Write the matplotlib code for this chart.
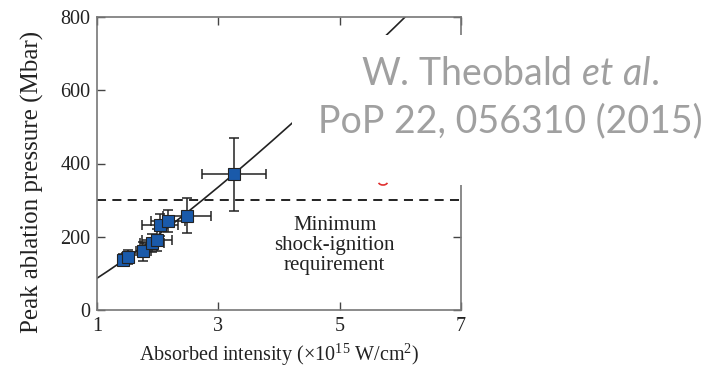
import numpy as np
import matplotlib
matplotlib.use("Agg")
import matplotlib.pyplot as plt
from matplotlib.patches import Rectangle, Arc

# ---- data ----
intensity = [1.43, 1.50, 1.76, 1.90, 1.98, 2.04, 2.17, 2.48, 3.26]
pressure = [137, 145, 160, 183, 192, 232, 243, 258, 370]
intensity_err = [0.08, 0.10, 0.12, 0.20, 0.25, 0.30, 0.28, 0.40, 0.53]
pressure_err = [15, 20, 25, 25, 30, 30, 30, 48, 100]

fit_coeff = 87.3      # power-law fit  P = a * I^n
fit_exponent = 1.227
threshold = 300
x_ticks = [1, 3, 5, 7]
y_ticks = [0, 200, 400, 600, 800]

serif = ["Liberation Serif", "DejaVu Serif"]
plt.rcParams["mathtext.fontset"] = "custom"
plt.rcParams["mathtext.rm"] = "Liberation Serif"
plt.rcParams["mathtext.it"] = "Lato:italic"

fig = plt.figure(figsize=(7.2, 3.68), dpi=100)
ax = fig.add_axes([97.3 / 720, 1 - 310 / 368, (460.7 - 97.3) / 720, (310 - 17) / 368])

# fit line
xf = np.linspace(1, 7, 400)
yf = fit_coeff * xf ** fit_exponent
ax.plot(xf, yf, color="#222222", lw=1.2, zorder=2)

# threshold
ax.axhline(threshold, color="#111111", lw=1.3, ls=(0, (5, 3.5)), zorder=2)

# data
ax.errorbar(intensity, pressure, xerr=intensity_err, yerr=pressure_err,
            fmt="none", ecolor="#222222", elinewidth=1.1, capsize=3.5,
            capthick=1.1, zorder=3)
ax.plot(intensity, pressure, ls="none", marker="s", markersize=9,
        markerfacecolor="#1a5aaa", markeredgecolor="#222222",
        markeredgewidth=0.8, zorder=4)

ax.text(4.92, 177, "Minimum\nshock-ignition\nrequirement", ha="center",
        va="center", family=serif, fontsize=15, color="#222222",
        linespacing=1.08)

ax.set_xlim(1, 7)
ax.set_ylim(0, 800)
ax.set_xticks(x_ticks)
ax.set_yticks(y_ticks)
ax.tick_params(direction="in", length=6, width=1.0, color="#444444",
               top=True, right=True, labelsize=14.5, labelcolor="#222222", pad=5)
for lab in ax.get_xticklabels() + ax.get_yticklabels():
    lab.set_family(serif)
for s in ax.spines.values():
    s.set_color("#777777")
    s.set_linewidth(1.2)

ax.set_xlabel("Absorbed intensity (×10$^{15}$ W/cm$^{2}$)", family=serif,
              fontsize=14.5, color="#222222", labelpad=4)
ax.set_ylabel("Peak ablation pressure (Mbar)", family=serif,
              fontsize=18, color="#222222")
ax.yaxis.set_label_coords(-0.147, 0.4386)

# white text box with citation
fig.patches.append(Rectangle((292 / 720, 1 - 185 / 368), 1.0, (185 - 35) / 368,
                             transform=fig.transFigure, facecolor="white",
                             edgecolor="none", zorder=10))
fig.text(510 / 720, 1 - 85 / 368, "W. Theobald $\\it{et\\ al}$.", ha="center",
         va="baseline", family=["Lato", "DejaVu Sans"], fontsize=27,
         color="#a0a0a0", zorder=11)
fig.text(510 / 720, 1 - 132 / 368, "PoP 22, 056310 (2015)", ha="center",
         va="baseline", family=["Lato", "DejaVu Sans"], fontsize=27,
         color="#a0a0a0", zorder=11)

# small red mark
fig.patches.append(Arc((383 / 720, 1 - 182 / 368), 9 / 720, 6 / 368,
                       theta1=200, theta2=340, transform=fig.transFigure,
                       color="#e03030", lw=1.2, zorder=12))

fig.savefig("out.png", dpi=100)
